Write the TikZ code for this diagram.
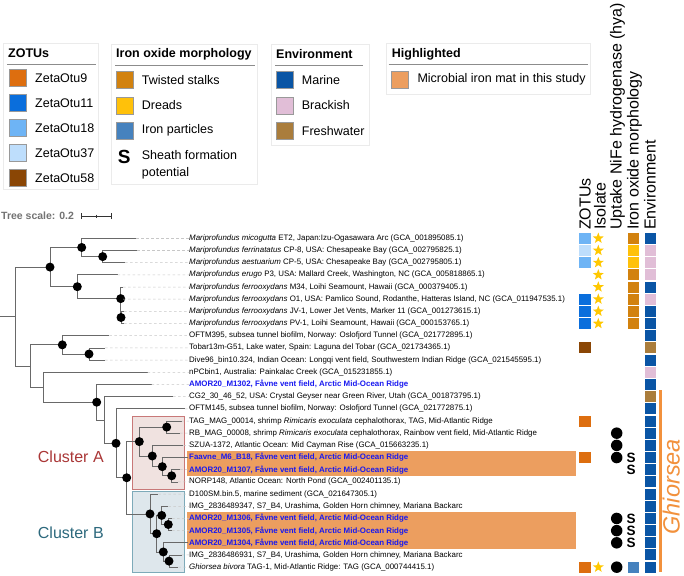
\documentclass[tikz,border=0pt]{standalone}
\usepackage{fontspec}
\setmainfont{Liberation Sans}
\usetikzlibrary{shapes.geometric}
\definecolor{otuA}{RGB}{221,110,15}
\definecolor{otuB}{RGB}{10,110,220}
\definecolor{otuC}{RGB}{110,180,245}
\definecolor{otuD}{RGB}{190,222,252}
\definecolor{otuE}{RGB}{138,70,5}
\definecolor{stalk}{RGB}{210,130,15}
\definecolor{dread}{RGB}{255,193,10}
\definecolor{ironp}{RGB}{70,130,190}
\definecolor{marine}{RGB}{10,85,165}
\definecolor{brack}{RGB}{225,190,215}
\definecolor{fresh}{RGB}{170,125,60}
\definecolor{hilite}{RGB}{236,158,95}
\definecolor{labblue}{RGB}{25,25,240}
\definecolor{treegray}{RGB}{105,105,105}
\definecolor{clAfill}{RGB}{240,226,224}
\definecolor{clAdraw}{RGB}{200,120,120}
\definecolor{clBfill}{RGB}{222,231,236}
\definecolor{clBdraw}{RGB}{125,170,185}
\definecolor{clAtext}{RGB}{170,55,55}
\definecolor{clBtext}{RGB}{45,105,125}
\definecolor{ghior}{RGB}{242,145,60}
\definecolor{starY}{RGB}{255,200,0}
\tikzset{
  br/.style={draw=treegray, line width=0.8pt},
  ndot/.style={circle, fill=black, inner sep=0pt, minimum size=9pt},
  leader/.style={draw=black!22, dash pattern=on 2.5pt off 2.5pt, line width=0.5pt},
  lab/.style={anchor=west, inner sep=0pt, font=\fontsize{7.9}{9}\selectfont},
  blab/.style={anchor=west, inner sep=0pt, font=\fontsize{7.9}{9}\selectfont\bfseries, text=labblue},
  cell/.style={inner sep=0pt, minimum width=11.4pt, minimum height=11pt},
  isostar/.style={star, star points=5, star point ratio=2.4, fill=starY, inner sep=0pt, minimum size=11.5pt},
  hyadot/.style={circle, fill=black, inner sep=0pt, minimum size=11.5pt},
  sheath/.style={inner sep=0pt, font=\fontsize{13.5}{15}\selectfont\bfseries},
  colhead/.style={rotate=90, anchor=base west, inner sep=0pt, font=\fontsize{16}{18}\selectfont},
  legbox/.style={draw=black!8, fill=white, line width=0.8pt},
  legline/.style={draw=black!45, line width=0.8pt},
  legtitle/.style={anchor=west, inner sep=0pt, font=\fontsize{12.5}{14}\selectfont\bfseries},
  legtext/.style={anchor=west, inner sep=0pt, font=\fontsize{12.5}{14}\selectfont},
  lsq/.style={inner sep=0pt, minimum size=17pt, draw=black!40, line width=0.4pt}
}
\begin{document}
\begin{tikzpicture}[x=1pt,y=-1pt]
\useasboundingbox (0,0) rectangle (684,575);
\fill[white] (0,0) rectangle (684,575);

% ---------------- legends ----------------
\draw[legbox] (3,43) rectangle (98,189);
\node[legtitle] (lzt) at (8,53.5) {ZOTUs};
\draw[legline] (7,64.3) -- (96,64.3);
\foreach \c/\t [count=\k from 0] in {otuA/ZetaOtu9,otuB/ZetaOtu11,otuC/ZetaOtu18,otuD/ZetaOtu37,otuE/ZetaOtu58}{
  \node[lsq, fill=\c] (lz\k) at (17.5,{77.7+25*\k}) {};
  \node[legtext] (lzt\k) at (35,{77.7+25*\k}) {\t};
}

\draw[legbox] (111.7,44.3) rectangle (257.3,184);
\node[legtitle] (lit) at (116,54.3) {Iron oxide morphology};
\draw[legline] (115,65.7) -- (255,65.7);
\foreach \c/\t [count=\k from 0] in {stalk/Twisted stalks,dread/Dreads,ironp/Iron particles}{
  \node[lsq, fill=\c] (li\k) at (124.2,{80+25.3*\k}) {};
  \node[legtext] (lit\k) at (141.7,{80+25.3*\k}) {\t};
}
\node[inner sep=0pt, font=\fontsize{19}{22}\selectfont\bfseries] (liS) at (124.2,156.7) {S};
\node[legtext, anchor=base west] (lis1) at (141.7,159.8) {Sheath formation};
\node[legtext, anchor=base west] (lis2) at (141.7,176) {potential};

\draw[legbox] (271.7,44) rectangle (369,145.7);
\node[legtitle] (let) at (276,54.3) {Environment};
\draw[legline] (275,65.7) -- (362.7,65.7);
\foreach \c/\t [count=\k from 0] in {marine/Marine,brack/Brackish,fresh/Freshwater}{
  \node[lsq, fill=\c] (le\k) at (284.7,{80+25.3*\k}) {};
  \node[legtext] (let\k) at (301.7,{80+25.3*\k}) {\t};
}

\draw[legbox] (386.7,43.3) rectangle (590,94);
\node[legtitle] (lht) at (391.7,54) {Highlighted};
\draw[legline] (388.7,64.3) -- (588,64.3);
\node[lsq, fill=hilite] (lh0) at (399.5,79.5) {};
\node[legtext] (lht0) at (417.3,79.5) {Microbial iron mat in this study};

% ---------------- tree scale ----------------
\node[anchor=west, inner sep=0pt, font=\fontsize{10.5}{12}\selectfont\bfseries, text=black!55] (ts) at (1,216) {Tree scale: 0.2};
\coordinate (sb1) at (81.7,216);
\coordinate (sb2) at (111.7,216);
\draw[black!80, line width=0.9pt] (sb1) -- (sb2);
\draw[black!80, line width=0.9pt] ([yshift=-3pt]sb1) -- ([yshift=3pt]sb1);
\draw[black!80, line width=0.9pt] ([yshift=-3pt]sb2) -- ([yshift=3pt]sb2);
\draw[black!80, line width=0.6pt] (96.7,214.5) -- (96.7,217.5);

% ---------------- cluster boxes & highlights ----------------
\draw[fill=clAfill, draw=clAdraw, line width=1pt] (132.7,416) rectangle (184.3,489);
\draw[fill=clBfill, draw=clBdraw, line width=1pt] (132.7,491.7) rectangle (184.3,572.7);
\fill[hilite] (187,451.4) rectangle (576,475.8);
\fill[hilite] (187,512.3) rectangle (576,548.9);
\node[font=\fontsize{16}{19}\selectfont, text=clAtext] (cla) at (70.8,457) {Cluster A};
\node[font=\fontsize{16}{19}\selectfont, text=clBtext] (clb) at (70.8,532.5) {Cluster B};

% ---------------- tree ----------------
\coordinate (rs) at (0,316.6);
\coordinate (root) at (15.7,316.6);
\coordinate (M0) at (50,267.1);
\coordinate (M1) at (81.7,247.45);
\coordinate (M1b) at (102.7,256.6);
\coordinate (M2) at (77.3,286.7);
\coordinate (M2b) at (120.7,298.6);
\coordinate (M2c) at (121,317.5);
\coordinate (P) at (30,366.05);
\coordinate (T) at (62.3,344.85);
\coordinate (T2) at (89,354.0);
\coordinate (Q) at (43.3,387.25);
\coordinate (V) at (96.7,402.2);
\coordinate (Y) at (104,419.95);
\coordinate (Z) at (116,443.3);
\coordinate (W) at (126.7,477.75);
\coordinate (CA) at (139.3,441.6);
\coordinate (A0) at (166.7,427.1);
\coordinate (A1) at (152.3,456.0);
\coordinate (A2) at (162.3,466.65);
\coordinate (A3) at (171.7,475.8);
\coordinate (CB) at (150,513.9);
\coordinate (Nb) at (156.7,533.7);
\coordinate (Nb1) at (161.7,515.4);
\coordinate (Nc) at (168.3,524.5);
\coordinate (Nb2) at (163.3,551.95);
\coordinate (Nb3) at (169,561.1);
% leaf tips
\foreach \i/\x in {0/136,1/137.3,2/125,3/117.7,4/123,5/123,6/124,7/124,8/109.3,9/105,10/105,11/147.7,12/151.7,13/173,14/185,15/181.7,16/180,17/183.3,18/188,19/180,20/178,21/158.3,22/168.3,23/172,24/172,25/188,26/181.7,27/178.3}{
  \coordinate (l\i) at (\x,{238.3+12.18*\i});
}
\draw[br] (rs) -- (root);
\foreach \a/\b in {root/M0,root/P,M0/M1,M0/M2,M1/l0,M1/M1b,M1b/l1,M1b/l2,M2/l3,M2/M2b,M2b/l4,M2b/l5,M2b/M2c,M2c/l6,M2c/l7,P/T,P/Q,T/l8,T/T2,T2/l9,T2/l10,Q/l11,Q/V,V/l12,V/Y,Y/l13,Y/Z,Z/l14,Z/W,W/CA,W/CB,CA/A0,CA/A1,A0/l15,A0/l16,A1/l17,A1/A2,A2/l18,A2/A3,A3/l19,A3/l20,CB/l21,CB/Nb,Nb/Nb1,Nb/Nb2,Nb1/l22,Nb1/Nc,Nc/l23,Nc/l24,Nb2/l25,Nb2/Nb3,Nb3/l26,Nb3/l27}{
  \draw[br] (\a) |- (\b);
}
\foreach \n in {M0,M1,M1b,M2,M2b,M2c,T,T2,V,Z,W,CA,A0,A1,A2,A3,CB,Nb,Nb1,Nc,Nb2,Nb3}{
  \node[ndot] (d\n) at (\n) {};
}

% ---------------- labels ----------------
\node[lab] (t0) at (189,238.3) {\textit{Mariprofundus micogutta} ET2, Japan:Izu-Ogasawara Arc (GCA\_001895085.1)};
\node[lab] (t1) at (189,250.48) {\textit{Mariprofundus ferrinatatus} CP-8, USA: Chesapeake Bay (GCA\_002795825.1)};
\node[lab] (t2) at (189,262.66) {\textit{Mariprofundus aestuarium} CP-5, USA: Chesapeake Bay (GCA\_002795805.1)};
\node[lab] (t3) at (189,274.84) {\textit{Mariprofundus erugo} P3, USA: Mallard Creek, Washington, NC (GCA\_005818865.1)};
\node[lab] (t4) at (189,287.02) {\textit{Mariprofundus ferrooxydans} M34, Loihi Seamount, Hawaii (GCA\_000379405.1)};
\node[lab] (t5) at (189,299.2) {\textit{Mariprofundus ferrooxydans} O1, USA: Pamlico Sound, Rodanthe, Hatteras Island, NC (GCA\_011947535.1)};
\node[lab] (t6) at (189,311.38) {\textit{Mariprofundus ferrooxydans} JV-1, Lower Jet Vents, Marker 11 (GCA\_001273615.1)};
\node[lab] (t7) at (189,323.56) {\textit{Mariprofundus ferrooxydans} PV-1, Loihi Seamount, Hawaii (GCA\_000153765.1)};
\node[lab] (t8) at (189,335.74) {OFTM395, subsea tunnel biofilm, Norway: Oslofjord Tunnel (GCA\_021772895.1)};
\node[lab] (t9) at (189,347.92) {Tobar13m-G51, Lake water, Spain: Laguna del Tobar (GCA\_021734365.1)};
\node[lab] (t10) at (189,360.1) {Dive96\_bin10.324, Indian Ocean: Longqi vent field, Southwestern Indian Ridge (GCA\_021545595.1)};
\node[lab] (t11) at (189,372.28) {nPCbin1, Australia: Painkalac Creek (GCA\_015231855.1)};
\node[blab] (t12) at (189,384.46) {AMOR20\_M1302, Fåvne vent field, Arctic Mid-Ocean Ridge};
\node[lab] (t13) at (189,396.64) {CG2\_30\_46\_52, USA: Crystal Geyser near Green River, Utah (GCA\_001873795.1)};
\node[lab] (t14) at (189,408.82) {OFTM145, subsea tunnel biofilm, Norway: Oslofjord Tunnel (GCA\_021772875.1)};
\node[lab] (t15) at (189,421.0) {TAG\_MAG\_00014, shrimp \textit{Rimicaris exoculata} cephalothorax, TAG, Mid-Atlantic Ridge};
\node[lab] (t16) at (189,433.18) {RB\_MAG\_00008, shrimp \textit{Rimicaris exoculata} cephalothorax, Rainbow vent field, Mid-Atlantic Ridge};
\node[lab] (t17) at (189,445.36) {SZUA-1372, Atlantic Ocean: Mid Cayman Rise (GCA\_015663235.1)};
\node[blab] (t18) at (189,457.54) {Faavne\_M6\_B18, Fåvne vent field, Arctic Mid-Ocean Ridge};
\node[blab] (t19) at (189,469.72) {AMOR20\_M1307, Fåvne vent field, Arctic Mid-Ocean Ridge};
\node[lab] (t20) at (189,481.9) {NORP148, Atlantic Ocean: North Pond (GCA\_002401135.1)};
\node[lab] (t21) at (189,494.08) {D100SM.bin.5, marine sediment (GCA\_021647305.1)};
\node[lab] (t22) at (189,506.26) {IMG\_2836489347, S7\_B4, Urashima, Golden Horn chimney, Mariana Backarc};
\node[blab] (t23) at (189,518.44) {AMOR20\_M1306, Fåvne vent field, Arctic Mid-Ocean Ridge};
\node[blab] (t24) at (189,530.62) {AMOR20\_M1305, Fåvne vent field, Arctic Mid-Ocean Ridge};
\node[blab] (t25) at (189,542.8) {AMOR20\_M1304, Fåvne vent field, Arctic Mid-Ocean Ridge};
\node[lab] (t26) at (189,554.98) {IMG\_2836486931, S7\_B4, Urashima, Golden Horn chimney, Mariana Backarc};
\node[lab] (t27) at (189,567.16) {\textit{Ghiorsea bivora} TAG-1, Mid-Atlantic Ridge: TAG (GCA\_000744415.1)};
\foreach \i in {0,...,17,19,20,21,22,23,24,26,27}{
  \draw[leader] (l\i) -- (t\i.west);
}

% ---------------- data columns ----------------
\node[colhead] (h1) at (590.5,230) {ZOTUs};
\node[colhead] (h2) at (605.5,230) {Isolate};
\node[colhead] (h3) at (621.5,230) {Uptake NiFe hydrogenase (hya)};
\node[colhead] (h4) at (638.5,230) {Iron oxide morphology};
\node[colhead] (h5) at (655.5,230) {Environment};
\foreach \i/\c in {0/otuC,1/otuD,2/otuC,5/otuB,6/otuB,7/otuB,9/otuE,15/otuA,18/otuA,27/otuA}{
  \node[cell, fill=\c] (z\i) at (585,{238.3+12.18*\i}) {};
}
\foreach \i in {0,...,7,27}{
  \node[isostar] (s\i) at (598.3,{238.3+12.18*\i}) {};
}
\foreach \i in {16,17,18,23,24,25,27}{
  \node[hyadot] (u\i) at (616.7,{238.3+12.18*\i}) {};
}
\foreach \i in {18,19,23,24,25}{
  \node[sheath] (sh\i) at (631,{238.3+12.18*\i}) {S};
}
\foreach \i/\c in {0/stalk,1/dread,2/dread,3/stalk,4/stalk,5/stalk,6/stalk,7/stalk,27/ironp}{
  \node[cell, fill=\c] (io\i) at (633.5,{238.3+12.18*\i}) {};
}
\foreach \i/\c in {0/marine,1/brack,2/brack,3/brack,4/marine,5/brack,6/marine,7/marine,8/marine,9/fresh,10/marine,11/brack,12/marine,13/fresh,14/marine,15/marine,16/marine,17/marine,18/marine,19/marine,20/marine,21/marine,22/marine,23/marine,24/marine,25/marine,26/marine,27/marine}{
  \node[cell, fill=\c] (en\i) at (650.5,{238.3+12.18*\i}) {};
}
\coordinate (g1) at (660.7,390);
\coordinate (g2) at (660.7,572);
\draw[ghior, line width=2.5pt] (g1) -- (g2);
\node[rotate=90, anchor=base, inner sep=0pt, font=\fontsize{23.5}{27}\selectfont\itshape, text=ghior] (gh) at (679.5,486.7) {Ghiorsea};
\end{tikzpicture}
\end{document}
